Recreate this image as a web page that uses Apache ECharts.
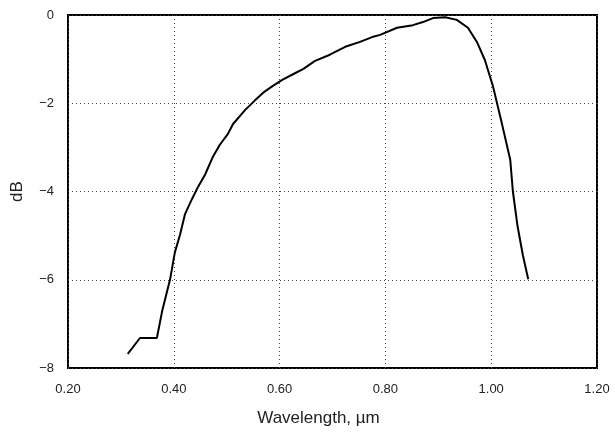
<!DOCTYPE html>
<html>
<head>
<meta charset="utf-8">
<script src="https://cdn.jsdelivr.net/npm/echarts@6/dist/echarts.min.js"></script>
<style>html,body{margin:0;padding:0;background:#fff}#c{width:615px;height:432px}</style>
</head>
<body>
<div id="c"></div>
<script>
var wavelength = [0.313,0.336,0.368,0.378,0.393,0.402,0.412,0.421,0.434,0.446,0.459,0.474,0.487,0.502,0.512,0.535,0.553,0.569,0.588,0.605,0.629,0.645,0.667,0.695,0.724,0.752,0.775,0.790,0.822,0.852,0.871,0.890,0.913,0.935,0.956,0.973,0.988,1.003,1.020,1.036,1.041,1.050,1.060,1.070];
var dB = [-7.68,-7.32,-7.32,-6.71,-5.99,-5.38,-4.97,-4.52,-4.18,-3.89,-3.62,-3.21,-2.94,-2.70,-2.47,-2.15,-1.94,-1.76,-1.60,-1.47,-1.32,-1.22,-1.04,-0.90,-0.72,-0.61,-0.50,-0.45,-0.29,-0.23,-0.16,-0.07,-0.05,-0.11,-0.29,-0.61,-1.02,-1.60,-2.45,-3.28,-4.00,-4.80,-5.45,-5.99];
var xTicks = {min:0.2, max:1.2, step:0.2};
var yTicks = {min:-8, max:0, step:2};

var pts = wavelength.map(function(x,i){return [x, dB[i]];});
var font = '"Liberation Sans Narrow", "Liberation Sans", sans-serif';
var chart = echarts.init(document.getElementById('c'));
chart.setOption({
  animation:false,
  grid:{left:68,right:18,top:15,bottom:63,show:true,borderColor:'#000',borderWidth:2,backgroundColor:'transparent'},
  xAxis:{type:'value',min:xTicks.min,max:xTicks.max,interval:xTicks.step,
    name:'Wavelength, \u00b5m',nameLocation:'middle',nameGap:42,
    nameTextStyle:{fontFamily:font,fontSize:17,color:'#222',padding:[0,28,0,0]},
    axisLine:{show:false},axisTick:{show:false},
    axisLabel:{fontFamily:font,fontSize:13,color:'#222',margin:15,formatter:function(v){return v.toFixed(2);}},
    splitLine:{show:true,lineStyle:{type:[1,3],color:'#444',width:1}}},
  yAxis:{type:'value',min:yTicks.min,max:yTicks.max,interval:yTicks.step,
    name:'dB',nameLocation:'middle',nameGap:42,nameRotate:90,
    nameTextStyle:{fontFamily:font,fontSize:17,color:'#222'},
    axisLine:{show:false},axisTick:{show:false},
    axisLabel:{fontFamily:font,fontSize:13,color:'#222',margin:14,formatter:function(v){return v<0?'\u2212'+Math.abs(v):String(v);}},
    splitLine:{show:true,lineStyle:{type:[1,3],color:'#444',width:1}}},
  series:[{type:'line',data:pts,showSymbol:false,symbol:'none',lineStyle:{color:'#000',width:2},itemStyle:{color:'#000'}}]
});
</script>
</body>
</html>
